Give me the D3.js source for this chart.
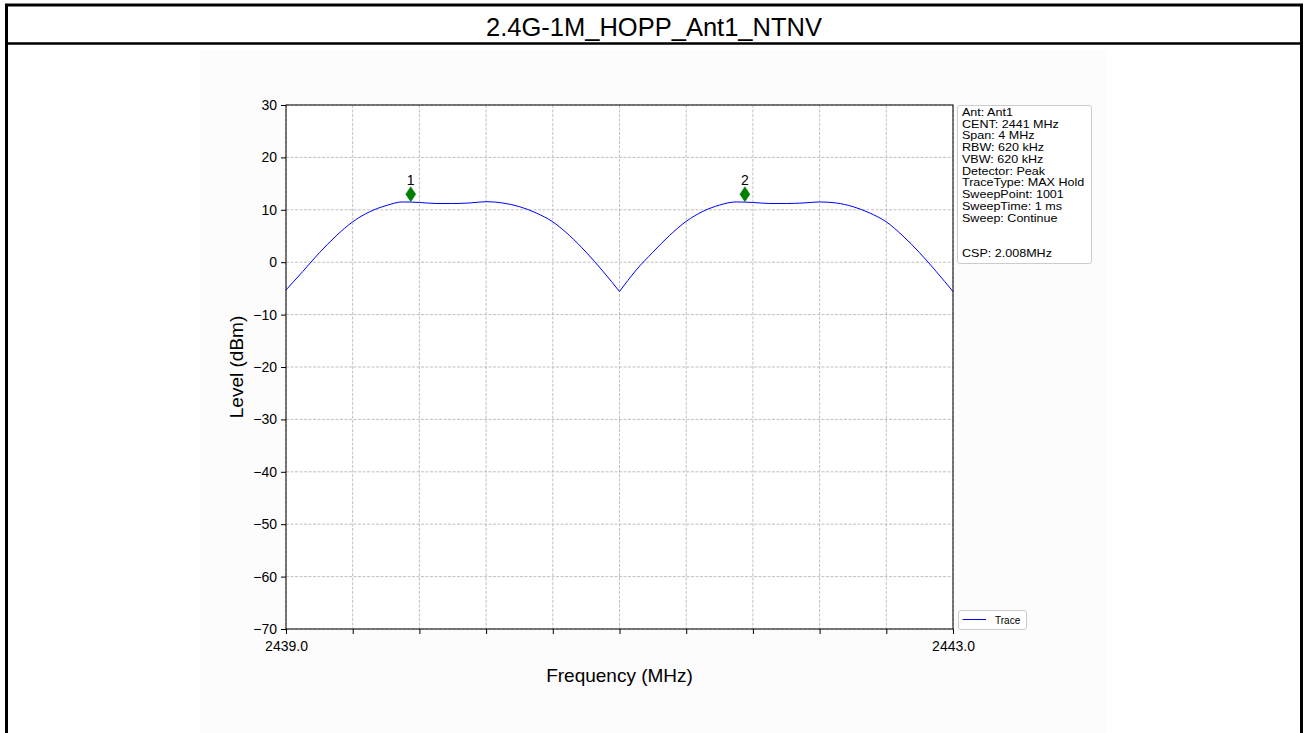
<!DOCTYPE html>
<html>
<head>
<meta charset="utf-8">
<script src="https://cdn.jsdelivr.net/npm/d3@7"></script>
<style>
  html, body { margin: 0; padding: 0; background: #ffffff; }
  svg { display: block; }
  text { font-family: Arial, "Liberation Sans", sans-serif; }
</style>
</head>
<body>
<svg id="chart" width="1308" height="733"></svg>
<script>
// ---------------- data ----------------
const chartTitle = "2.4G-1M_HOPP_Ant1_NTNV";
const xLabel = "Frequency (MHz)";
const yLabel = "Level (dBm)";

const traceFreqs = [
  2439.0, 2439.1, 2439.2, 2439.3, 2439.4, 2439.5, 2439.6, 2439.7, 2439.8, 2439.9,
  2440.0, 2440.1, 2440.2, 2440.3, 2440.4, 2440.5, 2440.6, 2440.7, 2440.8, 2440.9,
  2441.0, 2441.1, 2441.2, 2441.3, 2441.4, 2441.5, 2441.6, 2441.7, 2441.8, 2441.9,
  2442.0, 2442.1, 2442.2, 2442.3, 2442.4, 2442.5, 2442.6, 2442.7, 2442.8, 2442.9,
  2443.0
];
const traceLevels = [
  -5.3, -1.8, 1.8, 5.0, 7.7, 9.6, 10.8, 11.5, 11.4, 11.2,
  11.2, 11.3, 11.55, 11.3, 10.6, 9.4, 7.7, 5.1, 1.9, -1.7,
  -5.6, -1.5, 1.9, 5.1, 7.8, 9.7, 10.9, 11.5, 11.4, 11.2,
  11.2, 11.3, 11.5, 11.3, 10.6, 9.4, 7.7, 5.0, 1.8, -1.8,
  -5.6
];

const markerLabels = ["1", "2"];
const markerFreqs = [2439.748, 2441.752];
const markerLevels = [11.55, 11.55];

const yTicks = [30, 20, 10, 0, -10, -20, -30, -40, -50, -60, -70];
const xTicks = [2439.0, 2439.4, 2439.8, 2440.2, 2440.6, 2441.0, 2441.4, 2441.8, 2442.2, 2442.6, 2443.0];
const xTickLabels = ["2439.0", "", "", "", "", "", "", "", "", "", "2443.0"];

const infoLines = [
  "Ant: Ant1",
  "CENT: 2441 MHz",
  "Span: 4 MHz",
  "RBW: 620 kHz",
  "VBW: 620 kHz",
  "Detector: Peak",
  "TraceType: MAX Hold",
  "SweepPoint: 1001",
  "SweepTime: 1 ms",
  "Sweep: Continue",
  "",
  "",
  "CSP: 2.008MHz"
];
const legendLabel = "Trace";

// ---------------- layout ----------------
const svg = d3.select("#chart");
const W = 1308, H = 733;

svg.append("rect").attr("x", 0).attr("y", 0).attr("width", W).attr("height", H).attr("fill", "#ffffff");
// figure image background
svg.append("rect").attr("x", 200).attr("y", 50).attr("width", 907).attr("height", 690).attr("fill", "#fcfcfc");

// page frame + title strip
svg.append("rect")
  .attr("x", 6.5).attr("y", 5).attr("width", 1295).attr("height", 740)
  .attr("fill", "none").attr("stroke", "#000").attr("stroke-width", 3);
svg.append("line")
  .attr("x1", 5).attr("x2", 1303).attr("y1", 43.5).attr("y2", 43.5)
  .attr("stroke", "#000").attr("stroke-width", 2.5);
svg.append("text")
  .attr("x", 654).attr("y", 36)
  .attr("text-anchor", "middle")
  .attr("font-size", 25.5)
  .attr("fill", "#000")
  .text(chartTitle);

// plot area
const pL = 286, pR = 953, pT = 105, pB = 629;
const x = d3.scaleLinear().domain([2439.0, 2443.0]).range([pL, pR]);
const y = d3.scaleLinear().domain([-70, 30]).range([pB, pT]);

const plot = svg.append("g");
plot.append("rect").attr("x", pL).attr("y", pT).attr("width", pR - pL).attr("height", pB - pT)
  .attr("fill", "#ffffff");

// grid
plot.append("g").selectAll("line").data(xTicks).join("line")
  .attr("x1", d => x(d)).attr("x2", d => x(d))
  .attr("y1", pT).attr("y2", pB)
  .attr("stroke", "#b0b0b0").attr("stroke-width", 0.8).attr("stroke-dasharray", "3,1.5");
plot.append("g").selectAll("line").data(yTicks).join("line")
  .attr("x1", pL).attr("x2", pR)
  .attr("y1", d => y(d)).attr("y2", d => y(d))
  .attr("stroke", "#b0b0b0").attr("stroke-width", 0.8).attr("stroke-dasharray", "3,1.5");

// trace: smooth each lobe, keep the sharp notches between lobes
const traceData = traceFreqs.map((f, i) => ({ f, v: traceLevels[i] }));
const cuts = [0];
for (let i = 1; i < traceData.length - 1; i++) {
  if (traceData[i].v < traceData[i - 1].v && traceData[i].v < traceData[i + 1].v && traceData[i].v < 0) cuts.push(i);
}
cuts.push(traceData.length - 1);
const lineGen = d3.line().x(d => x(d.f)).y(d => y(d.v)).curve(d3.curveMonotoneX);
let pathD = "";
for (let k = 0; k < cuts.length - 1; k++) {
  const seg = lineGen(traceData.slice(cuts[k], cuts[k + 1] + 1));
  pathD += (k === 0 ? seg : "L" + seg.slice(1));
}
plot.append("path")
  .attr("d", pathD)
  .attr("fill", "none")
  .attr("stroke", "#0000ff")
  .attr("stroke-width", 1);

// spines
plot.append("rect").attr("x", pL).attr("y", pT).attr("width", pR - pL).attr("height", pB - pT)
  .attr("fill", "none").attr("stroke", "#000").attr("stroke-width", 1);

// axes
const fmtY = d => (d < 0 ? "\u2212" + Math.abs(d) : String(d));
const yAxis = d3.axisLeft(y).tickValues(yTicks).tickSize(5).tickPadding(4).tickFormat(fmtY);
const gy = svg.append("g").attr("transform", `translate(${pL},0)`).call(yAxis);
gy.select(".domain").remove();
gy.selectAll("text").attr("font-size", 14).attr("font-family", "Arial, 'Liberation Sans', sans-serif").attr("fill", "#000");
gy.selectAll("line").attr("stroke", "#000");

const xAxis = d3.axisBottom(x).tickValues(xTicks).tickSize(5).tickPadding(7.5)
  .tickFormat((d, i) => xTickLabels[i]);
const gx = svg.append("g").attr("transform", `translate(0,${pB})`).call(xAxis);
gx.select(".domain").remove();
gx.selectAll("text").attr("font-size", 14).attr("font-family", "Arial, 'Liberation Sans', sans-serif").attr("fill", "#000");
gx.selectAll("line").attr("stroke", "#000");

// axis labels
svg.append("text")
  .attr("x", (pL + pR) / 2).attr("y", 682)
  .attr("text-anchor", "middle").attr("font-size", 19).attr("fill", "#000")
  .text(xLabel);
svg.append("text")
  .attr("transform", `translate(243,${(pT + pB) / 2}) rotate(-90)`)
  .attr("text-anchor", "middle").attr("font-size", 19).attr("fill", "#000")
  .text(yLabel);

// markers
const markers = markerFreqs.map((f, i) => ({ f, v: markerLevels[i], label: markerLabels[i] }));
const mg = svg.append("g").selectAll("g").data(markers).join("g")
  .attr("transform", d => `translate(${x(d.f)},${y(d.v)})`);
mg.append("path")
  .attr("d", "M0,-15 L5,-7.5 L0,0 L-5,-7.5 Z")
  .attr("fill", "#008000").attr("stroke", "#008000").attr("stroke-width", 0.5);
mg.append("text")
  .attr("x", 0).attr("y", -17)
  .attr("text-anchor", "middle").attr("font-size", 14).attr("fill", "#000")
  .text(d => d.label);

// info box: tight line spacing as in the reference, glyphs widened horizontally
const ib = svg.append("g");
ib.append("rect").attr("x", 957.5).attr("y", 105.5).attr("width", 134).attr("height", 158).attr("rx", 2.5)
  .attr("fill", "#ffffff").attr("stroke", "#cccccc").attr("stroke-width", 1);
const infoG = ib.append("g").attr("transform", "translate(962,0) scale(1.22,1)");
infoG.selectAll("text").data(infoLines.filter(d => d !== "")).join("text")
  .attr("x", 0)
  .attr("y", d => 116 + infoLines.indexOf(d) * 11.75)
  .attr("font-size", 10.3).attr("fill", "#000")
  .text(d => d);

// legend
const lg = svg.append("g");
lg.append("rect").attr("x", 958.5).attr("y", 610.5).attr("width", 68).attr("height", 19).attr("rx", 2.5)
  .attr("fill", "#ffffff").attr("stroke", "#cccccc").attr("stroke-width", 1);
lg.append("line").attr("x1", 962.5).attr("x2", 986).attr("y1", 619.5).attr("y2", 619.5)
  .attr("stroke", "#0000ff").attr("stroke-width", 1);
lg.append("text").attr("x", 995).attr("y", 623.5).attr("font-size", 10).attr("fill", "#000").text(legendLabel);
</script>
</body>
</html>
